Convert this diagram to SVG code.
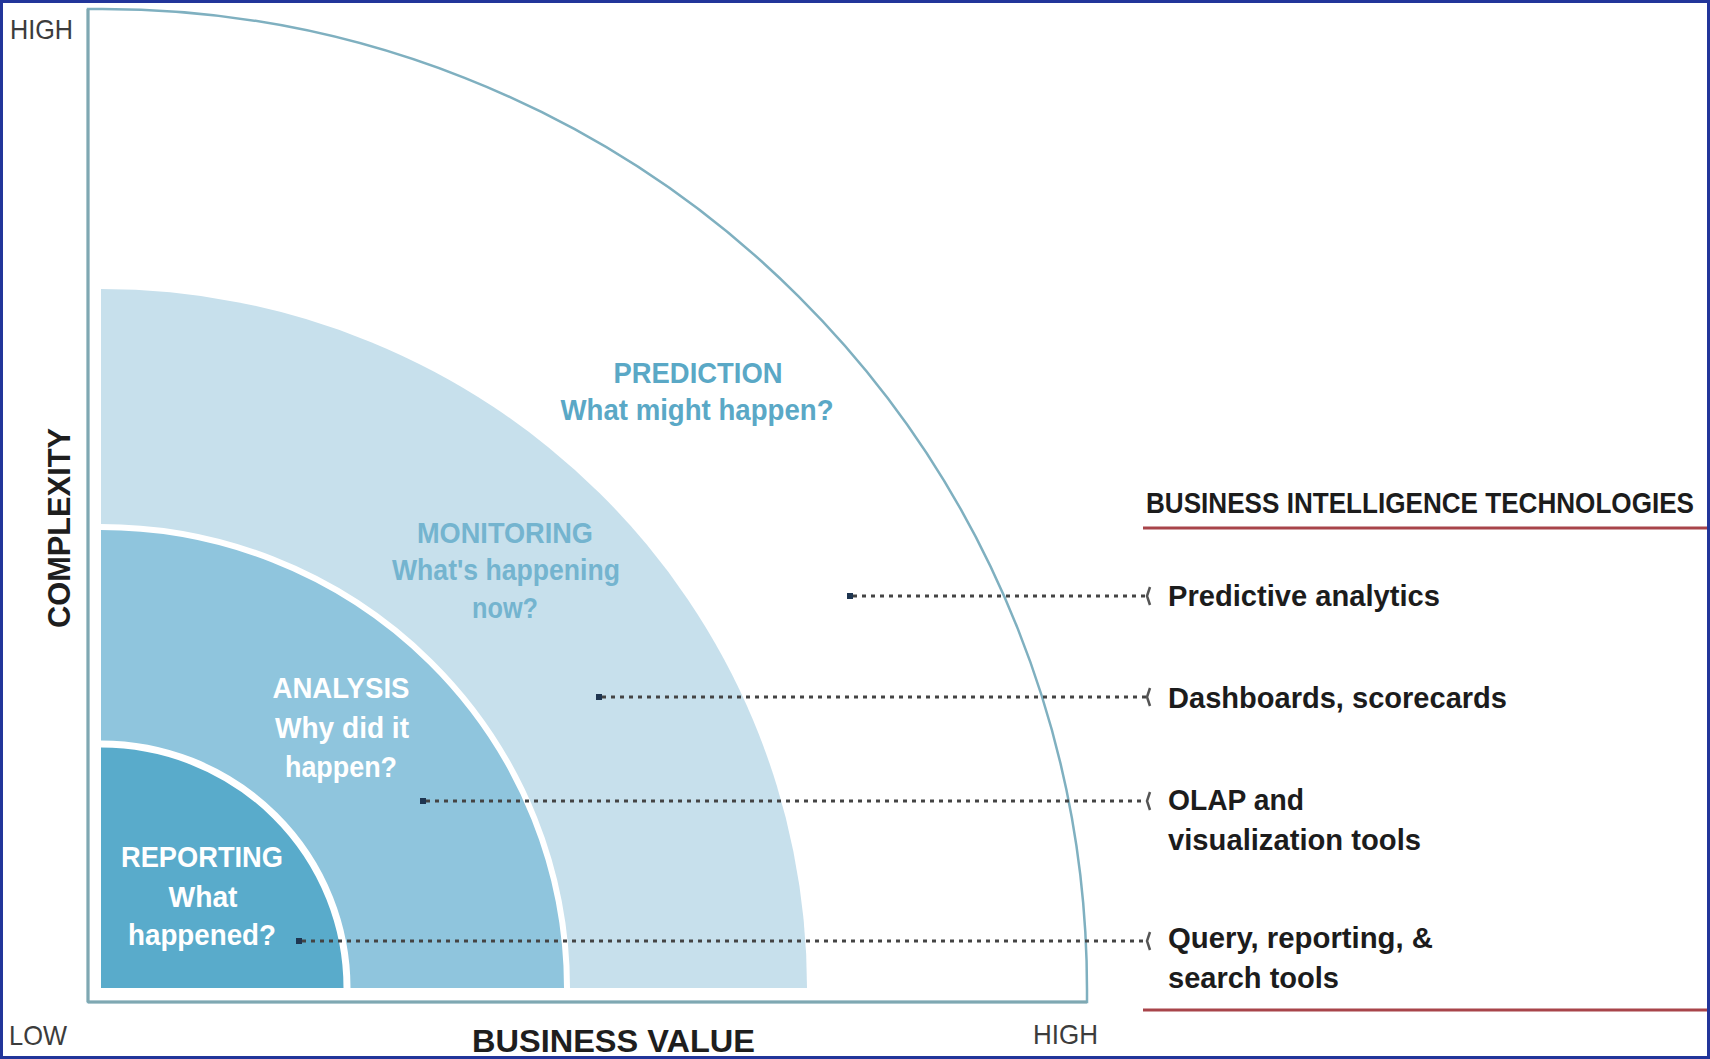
<svg xmlns="http://www.w3.org/2000/svg" width="1710" height="1059" viewBox="0 0 1710 1059">
<style>
  text { font-family: "Liberation Sans", Arial, sans-serif; }
  .axis { fill: #3c3c3c; font-size: 28px; }
  .axisb { fill: #1e1e1e; font-size: 31px; font-weight: bold; }
  .item { fill: #1c1c1c; font-size: 30px; font-weight: bold; }
  .band { font-size: 30px; font-weight: bold; text-anchor: middle; }
  .pred { fill: #5aa8c6; }
  .mon { fill: #74b4cf; }
  .wht { fill: #ffffff; }
  .dots { fill: none; stroke: #444; stroke-width: 3; stroke-dasharray: 4 5; }
  .tick { fill: none; stroke: #555; stroke-width: 2.5; }
  .start { fill: #1e3550; }
  .red { stroke: #a8444a; stroke-width: 3; }
</style>
<rect x="0" y="0" width="1710" height="1059" fill="#ffffff"/>

<g id="bands">
  <g id="band-prediction">
    <path d="M 88 9 L 102 9 A 985 981 0 0 1 1087 990 L 1087 1002 L 88 1002 Z" fill="#ffffff" stroke="#7fb0c0" stroke-width="2.5"/>
  </g>
  <g id="band-monitoring">
    <path d="M 101 988 L 101 289 A 706 699 0 0 1 807 988 Z" fill="#c7e0ec"/>
  </g>
  <g id="band-analysis">
    <path d="M 101 988 L 101 527 A 466 461 0 0 1 567 988 Z" fill="#8fc5dd"/>
    <path d="M 101 527 A 466 461 0 0 1 567 988" fill="none" stroke="#ffffff" stroke-width="6"/>
  </g>
  <g id="band-reporting">
    <path d="M 101 988 L 101 744 A 246 244 0 0 1 347 988 Z" fill="#59abcb"/>
    <path d="M 101 744 A 246 244 0 0 1 347 988" fill="none" stroke="#ffffff" stroke-width="7"/>
  </g>
  <line x1="88" y1="9" x2="88" y2="1002" stroke="#7fa8b2" stroke-width="3"/>
  <line x1="88" y1="1002" x2="1087" y2="1002" stroke="#7fa8b2" stroke-width="3"/>
</g>

<g id="axis-labels">
  <text class="axis" x="10" y="39" textLength="63" lengthAdjust="spacingAndGlyphs">HIGH</text>
  <text class="axis" x="9" y="1045" textLength="58" lengthAdjust="spacingAndGlyphs">LOW</text>
  <text class="axis" x="1033" y="1044" textLength="65" lengthAdjust="spacingAndGlyphs">HIGH</text>
  <text class="axisb" x="472" y="1052" textLength="283" lengthAdjust="spacingAndGlyphs">BUSINESS VALUE</text>
  <text class="axisb" transform="translate(70,528) rotate(-90)" x="0" y="0" text-anchor="middle" textLength="200" lengthAdjust="spacingAndGlyphs">COMPLEXITY</text>
</g>

<g id="label-prediction">
  <text class="band pred" x="698" y="383" textLength="169" lengthAdjust="spacingAndGlyphs">PREDICTION</text>
  <text class="band pred" x="697" y="420" textLength="273" lengthAdjust="spacingAndGlyphs">What might happen?</text>
</g>
<g id="label-monitoring">
  <text class="band mon" x="505" y="543" textLength="176" lengthAdjust="spacingAndGlyphs">MONITORING</text>
  <text class="band mon" x="506" y="580" textLength="228" lengthAdjust="spacingAndGlyphs">What's happening</text>
  <text class="band mon" x="505" y="618" textLength="66" lengthAdjust="spacingAndGlyphs">now?</text>
</g>
<g id="label-analysis">
  <text class="band wht" x="341" y="698" textLength="137" lengthAdjust="spacingAndGlyphs">ANALYSIS</text>
  <text class="band wht" x="342" y="738" textLength="134" lengthAdjust="spacingAndGlyphs">Why did it</text>
  <text class="band wht" x="341" y="777" textLength="112" lengthAdjust="spacingAndGlyphs">happen?</text>
</g>
<g id="label-reporting">
  <text class="band wht" x="202" y="867" textLength="162" lengthAdjust="spacingAndGlyphs">REPORTING</text>
  <text class="band wht" x="203" y="907" textLength="69" lengthAdjust="spacingAndGlyphs">What</text>
  <text class="band wht" x="202" y="945" textLength="148" lengthAdjust="spacingAndGlyphs">happened?</text>
</g>

<g id="bi-header">
  <text class="item" transform="translate(1146,513) scale(0.87,1)" x="0" y="0">BUSINESS INTELLIGENCE TECHNOLOGIES</text>
  <line class="red" x1="1143" y1="528" x2="1710" y2="528"/>
  <line class="red" x1="1143" y1="1010" x2="1710" y2="1010" stroke="#8e3a3e"/>
</g>

<g id="tech-predictive"><text class="item" x="1168" y="606" textLength="272" lengthAdjust="spacingAndGlyphs">Predictive analytics</text></g>
<g id="tech-dashboards"><text class="item" x="1168" y="708" textLength="339" lengthAdjust="spacingAndGlyphs">Dashboards, scorecards</text></g>
<g id="tech-olap">
  <text class="item" x="1168" y="810" textLength="136" lengthAdjust="spacingAndGlyphs">OLAP and</text>
  <text class="item" x="1168" y="850" textLength="253" lengthAdjust="spacingAndGlyphs">visualization tools</text>
</g>
<g id="tech-query">
  <text class="item" x="1168" y="948" textLength="265" lengthAdjust="spacingAndGlyphs">Query, reporting, &amp;</text>
  <text class="item" x="1168" y="988" textLength="171" lengthAdjust="spacingAndGlyphs">search tools</text>
</g>

<g id="connectors">
  <line class="dots" x1="853" y1="596" x2="1146" y2="596"/>
  <rect class="start" x="847" y="593" width="6" height="6"/>
  <path class="tick" d="M 1150 587 L 1147 596 L 1150 605"/>

  <line class="dots" x1="602" y1="697" x2="1146" y2="697"/>
  <rect class="start" x="596" y="694" width="6" height="6"/>
  <path class="tick" d="M 1150 688 L 1147 697 L 1150 706"/>

  <line class="dots" x1="426" y1="801" x2="1146" y2="801"/>
  <rect class="start" x="420" y="798" width="6" height="6"/>
  <path class="tick" d="M 1150 792 L 1147 801 L 1150 810"/>

  <line class="dots" x1="302" y1="941" x2="1146" y2="941"/>
  <rect class="start" x="296" y="938" width="6" height="6"/>
  <path class="tick" d="M 1150 932 L 1147 941 L 1150 950"/>
</g>

<rect x="1.5" y="1.5" width="1707" height="1056" fill="none" stroke="#22359a" stroke-width="3"/>
</svg>
